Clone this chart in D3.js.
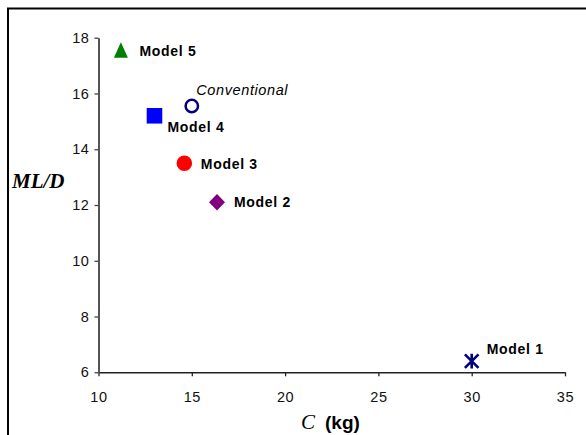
<!DOCTYPE html>
<html>
<head>
<meta charset="utf-8">
<script src="https://cdn.jsdelivr.net/npm/d3@7"></script>
<style>
  html, body { margin: 0; padding: 0; background: #fff; }
  svg { display: block; }
</style>
</head>
<body>
<script>
// ---- data ----
const names   = ["Model 1", "Model 2", "Model 3", "Model 4", "Model 5", "Conventional"];
const cValues = [30.0, 16.35, 14.6, 13.0, 11.2, 15.0];
const mldValues = [6.4, 12.1, 13.5, 15.2, 17.55, 15.55];
const xTicks = [10, 15, 20, 25, 30, 35];
const yTicks = [6, 8, 10, 12, 14, 16, 18];

// ---- styles (not data) ----
const markerStyle = {
  "Model 1": { shape: "star", color: "#000080" },
  "Model 2": { shape: "diamond", color: "#800080" },
  "Model 3": { shape: "circle", color: "#FF0000" },
  "Model 4": { shape: "square", color: "#0000FF" },
  "Model 5": { shape: "triangle", color: "#008000" },
  "Conventional": { shape: "ring", color: "#000080" }
};
const labelOffset = {
  "Model 1": [15, -7.5],
  "Model 2": [17, 4.5],
  "Model 3": [16.5, 6.3],
  "Model 4": [13, 16.3],
  "Model 5": [18.5, 6],
  "Conventional": [4.5, -11.5]
};

const W = 586, H = 435;
const svg = d3.select("body").append("svg").attr("width", W).attr("height", H);

// outer frame (cropped on right and bottom)
svg.append("rect")
  .attr("x", 8).attr("y", 8.5).attr("width", 700).attr("height", 600)
  .attr("fill", "none").attr("stroke", "#000").attr("stroke-width", 2);

const x = d3.scaleLinear().domain([10, 35]).range([98.5, 565]);
const y = d3.scaleLinear().domain([6, 18]).range([372.3, 37.7]);

const font = "'Liberation Sans', Arial, sans-serif";

// x axis
const xAxis = svg.append("g")
  .attr("transform", `translate(0,${y(6)})`)
  .call(d3.axisBottom(x).tickValues(xTicks).tickSize(4).tickSizeOuter(0).tickPadding(15));
xAxis.select(".domain").attr("stroke", "#222").attr("stroke-width", 1.5);
xAxis.selectAll(".tick line").attr("stroke", "#222").attr("stroke-width", 1.3);
xAxis.selectAll("text").attr("font-family", font).attr("font-size", 14.5)
  .attr("fill", "#111").attr("letter-spacing", 0.6);

// y axis
const yAxis = svg.append("g")
  .attr("transform", `translate(${x(10)},0)`)
  .call(d3.axisLeft(y).tickValues(yTicks).tickSize(4).tickSizeOuter(0).tickPadding(5));
yAxis.select(".domain").attr("stroke", "#555").attr("stroke-width", 2);
yAxis.selectAll(".tick line").attr("stroke", "#444").attr("stroke-width", 1.3);
yAxis.selectAll("text").attr("font-family", font).attr("font-size", 14.5)
  .attr("fill", "#111").attr("letter-spacing", 0.6);

// marker paths
function markerPath(shape) {
  switch (shape) {
    case "triangle": return "M0,-8L7,7.5L-7,7.5Z";
    case "square": return "M-7.8,-7.8H7.8V7.8H-7.8Z";
    case "diamond": return "M0,-8.2L8,0L0,8.2L-8,0Z";
    case "circle": return d3.arc()({innerRadius: 0, outerRadius: 7.8, startAngle: 0, endAngle: 2 * Math.PI});
    default: return null;
  }
}

const pts = names.map((n, i) => ({ name: n, c: cValues[i], m: mldValues[i] }));

const g = svg.append("g");
pts.forEach(p => {
  const st = markerStyle[p.name];
  const px = x(p.c), py = y(p.m);
  const node = g.append("g").attr("transform", `translate(${px},${py})`);
  if (st.shape === "ring") {
    node.append("circle").attr("r", 6.2).attr("fill", "#fff")
      .attr("stroke", st.color).attr("stroke-width", 2.5);
  } else if (st.shape === "star") {
    const s = 6.8;
    node.append("path")
      .attr("d", `M${-s},${-s}L${s},${s}M${s},${-s}L${-s},${s}M0,${-s - 0.5}L0,${s + 0.5}`)
      .attr("stroke", st.color).attr("stroke-width", 2.6).attr("fill", "none");
  } else {
    node.append("path").attr("d", markerPath(st.shape)).attr("fill", st.color);
  }
  const off = labelOffset[p.name];
  const isConv = p.name === "Conventional";
  g.append("text")
    .attr("x", px + off[0]).attr("y", py + off[1])
    .attr("font-family", font)
    .attr("font-size", isConv ? 14.5 : 14)
    .attr("font-weight", isConv ? "normal" : "bold")
    .attr("font-style", isConv ? "italic" : "normal")
    .attr("letter-spacing", isConv ? 0.6 : 0.7)
    .attr("fill", "#000")
    .text(p.name);
});

// y axis title
svg.append("text")
  .attr("x", 12).attr("y", 188)
  .attr("font-family", "'Liberation Serif', 'Times New Roman', serif")
  .attr("font-size", 21).attr("font-weight", "bold").attr("font-style", "italic")
  .attr("fill", "#000")
  .text("ML/D");

// x axis title
const xt = svg.append("text")
  .attr("x", 301).attr("y", 428.5)
  .attr("fill", "#000");
xt.append("tspan")
  .attr("font-family", "'Liberation Serif', 'Times New Roman', serif")
  .attr("font-size", 21).attr("font-style", "italic")
  .text("C");
xt.append("tspan")
  .attr("dx", 10)
  .attr("font-family", font)
  .attr("font-size", 19).attr("font-weight", "bold")
  .text("(kg)");
</script>
</body>
</html>
